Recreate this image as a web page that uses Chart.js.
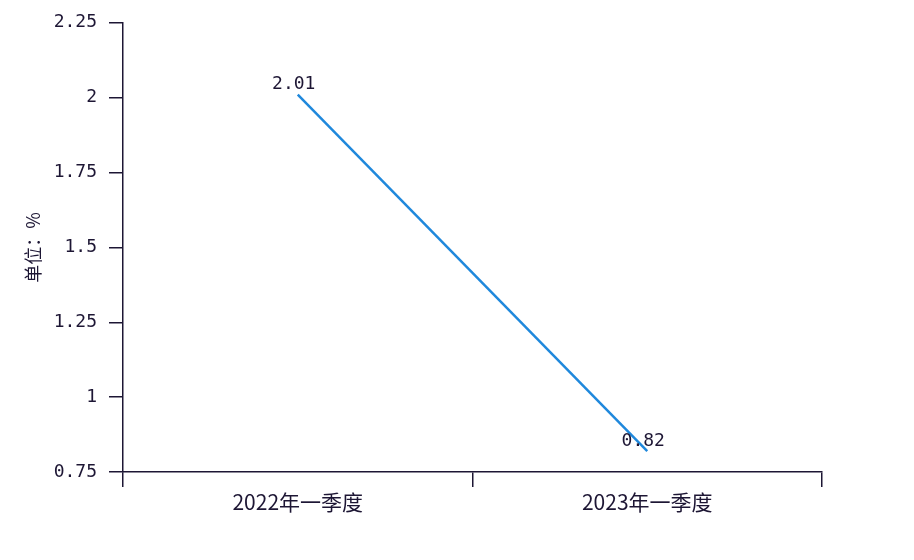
<!DOCTYPE html>
<html>
<head>
<meta charset="utf-8">
<script src="https://cdn.jsdelivr.net/npm/chart.js@4.4.0/dist/chart.umd.min.js"></script>
<style>
  html, body { margin: 0; padding: 0; background: #fff; }
  #wrap { width: 914px; height: 560px; }
</style>
</head>
<body>
<div id="wrap"><canvas id="chart" width="914" height="560"></canvas></div>
<script>
const categories = ['2022年一季度', '2023年一季度'];
const values = [2.01, 0.82];
const yTitle = '单位：%';

const ink = '#1d1634';
const monoFont = "'DejaVu Sans Mono', 'Liberation Mono', monospace";

// value labels above each point
const pointLabels = {
  id: 'pointLabels',
  afterDatasetsDraw(chart) {
    const ctx = chart.ctx;
    const meta = chart.getDatasetMeta(0);
    ctx.save();
    ctx.font = '18px ' + monoFont;
    ctx.fillStyle = ink;
    ctx.textAlign = 'center';
    ctx.textBaseline = 'bottom';
    meta.data.forEach((pt, i) => {
      ctx.fillText(values[i].toFixed(2), pt.x - 4, pt.y - 1);
    });
    ctx.restore();
  }
};

new Chart(document.getElementById('chart'), {
  type: 'line',
  data: {
    labels: categories,
    datasets: [{
      data: values,
      borderColor: '#1f88dc',
      borderWidth: 2.5,
      pointRadius: 0,
      tension: 0,
      fill: false
    }]
  },
  options: {
    responsive: false,
    animation: false,
    layout: { padding: { left: 22, right: 92, top: 22, bottom: 0 } },
    plugins: {
      legend: { display: false },
      tooltip: { enabled: false }
    },
    scales: {
      x: {
        type: 'category',
        offset: true,
        grid: {
          offset: true,
          drawOnChartArea: false,
          drawTicks: true,
          tickLength: 15,
          color: ink,
          lineWidth: 1.5
        },
        border: { display: true, color: ink, width: 1.5 },
        ticks: {
          color: ink,
          padding: 2,
          font: { family: "'Noto Sans CJK SC', sans-serif", size: 21 }
        },
        afterFit(scale) { scale.height = 88; }
      },
      y: {
        min: 0.75,
        max: 2.25,
        grid: {
          drawOnChartArea: false,
          drawTicks: true,
          tickLength: 14,
          color: ink,
          lineWidth: 1.5
        },
        border: { display: true, color: ink, width: 1.5 },
        ticks: {
          stepSize: 0.25,
          color: ink,
          padding: 12,
          font: { family: monoFont, size: 18 },
          callback: v => String(Math.round(v * 100) / 100)
        },
        title: {
          display: true,
          text: yTitle,
          color: ink,
          padding: 0,
          font: { family: "'Noto Sans CJK SC', sans-serif", size: 18 }
        },
        afterFit(scale) { scale.width = 101; }
      }
    }
  },
  plugins: [pointLabels]
});
</script>
</body>
</html>
